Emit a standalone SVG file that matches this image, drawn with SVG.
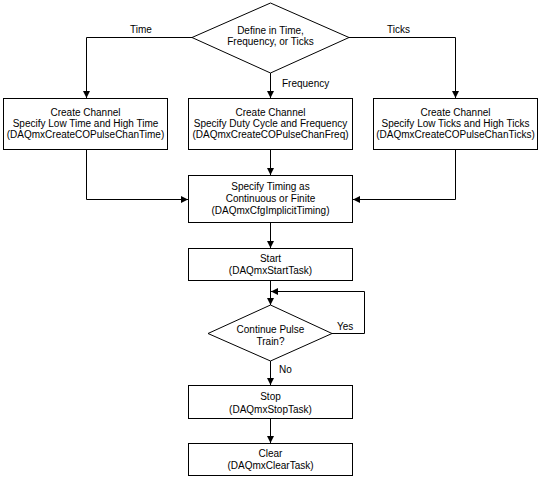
<svg xmlns="http://www.w3.org/2000/svg" width="541" height="480" viewBox="0 0 541 480">
<defs>
<style>
.box{fill:#fff;stroke:#000;stroke-width:1}
.t{font-family:"Liberation Sans",Arial,sans-serif;font-size:10px;fill:#000;text-anchor:middle}
.l{font-family:"Liberation Sans",Arial,sans-serif;font-size:10px;fill:#000}
.c{fill:none;stroke:#000;stroke-width:1}
</style>
<marker id="ah" markerUnits="userSpaceOnUse" markerWidth="8" markerHeight="7" refX="7" refY="3.5" orient="auto">
<path d="M0,0 L7,3.5 L0,7 Z" fill="#000"/>
</marker>
</defs>
<rect width="541" height="480" fill="#fff"/>
<g id="connectors">
<polyline class="c" points="192,37.5 86.5,37.5 86.5,98" marker-end="url(#ah)"/>
<polyline class="c" points="349,37.5 455.5,37.5 455.5,98" marker-end="url(#ah)"/>
<polyline class="c" points="270.5,73 270.5,98" marker-end="url(#ah)"/>
<polyline class="c" points="86.5,149.5 86.5,199.5 188,199.5" marker-end="url(#ah)"/>
<polyline class="c" points="270.5,149.5 270.5,175" marker-end="url(#ah)"/>
<polyline class="c" points="455.5,149.5 455.5,199.5 353,199.5" marker-end="url(#ah)"/>
<polyline class="c" points="270.5,222.5 270.5,248" marker-end="url(#ah)"/>
<polyline class="c" points="270.5,280.5 270.5,305" marker-end="url(#ah)"/>
<polyline class="c" points="332,333.5 364.5,333.5 364.5,291.5 271,291.5" marker-end="url(#ah)"/>
<polyline class="c" points="270.5,361 270.5,385" marker-end="url(#ah)"/>
<polyline class="c" points="270.5,418.5 270.5,443" marker-end="url(#ah)"/>
<text class="l" x="130" y="33">Time</text>
<text class="l" x="387" y="33">Ticks</text>
<text class="l" x="282" y="87">Frequency</text>
<text class="l" x="337" y="330">Yes</text>
<text class="l" x="279" y="373">No</text>
</g>
<g id="define">
<polygon class="box" points="270.5,3 349,37.5 270.5,73 192,37.5"/>
<text class="t" x="270.5" y="33.5">Define in Time,</text>
<text class="t" x="270.5" y="45">Frequency, or Ticks</text>
</g>
<g id="chan-time">
<rect class="box" x="3.5" y="98.5" width="164" height="51"/>
<text class="t" x="85.5" y="116">Create Channel</text>
<text class="t" x="85.5" y="127">Specify Low Time and High Time</text>
<text class="t" x="85.5" y="138">(DAQmxCreateCOPulseChanTime)</text>
</g>
<g id="chan-freq">
<rect class="box" x="188.5" y="98.5" width="164" height="51"/>
<text class="t" x="270.5" y="116">Create Channel</text>
<text class="t" x="270.5" y="127">Specify Duty Cycle and Frequency</text>
<text class="t" x="270.5" y="138">(DAQmxCreateCOPulseChanFreq)</text>
</g>
<g id="chan-ticks">
<rect class="box" x="373.5" y="98.5" width="164" height="51"/>
<text class="t" x="455.5" y="116">Create Channel</text>
<text class="t" x="455.5" y="127">Specify Low Ticks and High Ticks</text>
<text class="t" x="455.5" y="138">(DAQmxCreateCOPulseChanTicks)</text>
</g>
<g id="timing">
<rect class="box" x="188.5" y="175.5" width="164" height="47"/>
<text class="t" x="270.5" y="190">Specify Timing as</text>
<text class="t" x="270.5" y="202">Continuous or Finite</text>
<text class="t" x="270.5" y="214">(DAQmxCfgImplicitTiming)</text>
</g>
<g id="start">
<rect class="box" x="188.5" y="248.5" width="164" height="32"/>
<text class="t" x="270.5" y="261.5">Start</text>
<text class="t" x="270.5" y="273.5">(DAQmxStartTask)</text>
</g>
<g id="continue">
<polygon class="box" points="270.5,305 332,333.5 270.5,361 208,333.5"/>
<text class="t" x="270.5" y="332.5">Continue Pulse</text>
<text class="t" x="270.5" y="344.5">Train?</text>
</g>
<g id="stop">
<rect class="box" x="188.5" y="385.5" width="164" height="33"/>
<text class="t" x="270.5" y="400">Stop</text>
<text class="t" x="270.5" y="412.5">(DAQmxStopTask)</text>
</g>
<g id="clear">
<rect class="box" x="188.5" y="443.5" width="164" height="32"/>
<text class="t" x="270.5" y="456.5">Clear</text>
<text class="t" x="270.5" y="468.5">(DAQmxClearTask)</text>
</g>
</svg>
